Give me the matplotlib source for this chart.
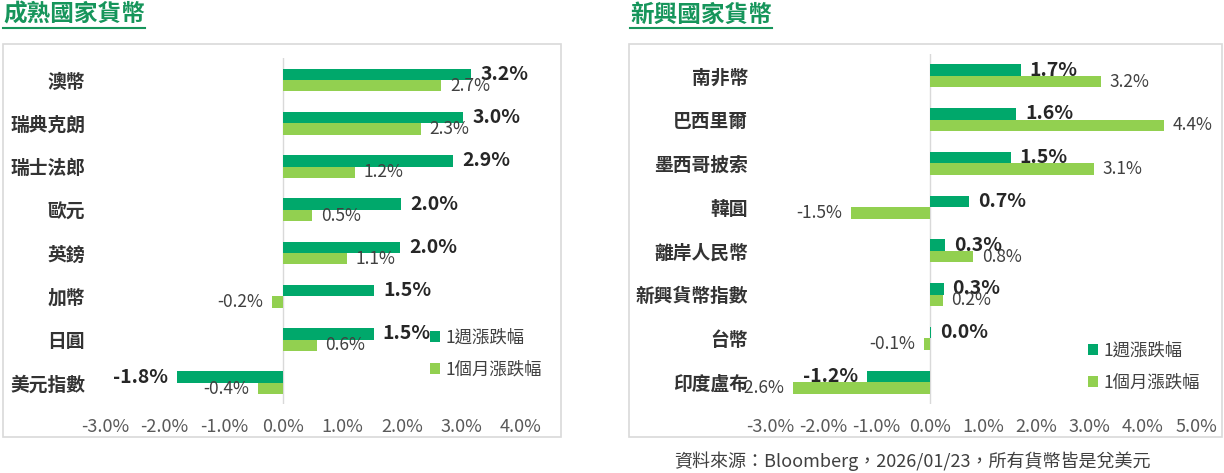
import matplotlib
matplotlib.use("Agg")
import matplotlib.pyplot as plt
from matplotlib.patches import Rectangle
from matplotlib.lines import Line2D

plt.rcParams['font.family'] = ['Noto Sans CJK TC', 'DejaVu Sans']

# 成熟國家貨幣
mature_names = ["澳幣", "瑞典克朗", "瑞士法郎", "歐元", "英鎊", "加幣", "日圓", "美元指數"]
mature_week = [3.16, 3.03, 2.86, 1.98, 1.97, 1.53, 1.52, -1.79]
mature_month = [2.66, 2.31, 1.2, 0.48, 1.07, -0.19, 0.56, -0.43]
mature_ticks = [-3, -2, -1, 0, 1, 2, 3, 4]

# 新興國家貨幣
emerging_names = ["南非幣", "巴西里爾", "墨西哥披索", "韓圓", "離岸人民幣", "新興貨幣指數", "台幣", "印度盧布"]
emerging_week = [1.71, 1.62, 1.52, 0.74, 0.28, 0.26, 0.03, -1.18]
emerging_month = [3.21, 4.39, 3.08, -1.48, 0.81, 0.24, -0.1, -2.56]
emerging_ticks = [-3, -2, -1, 0, 1, 2, 3, 4, 5]

series_names = ["1週漲跌幅", "1個月漲跌幅"]
titles = ["成熟國家貨幣", "新興國家貨幣"]
source_text = "資料來源：Bloomberg，2026/01/23，所有貨幣皆是兌美元"

DARK = "#00A86B"
LIGHT = "#92D050"
TITLE_GREEN = "#16955B"
W, H = 1224, 473


def px(x, y):
    # pixel coords (from top-left) to figure fraction
    return x / W, 1 - y / H


def draw_panel(ax, names, week, month, ticks, label_pad, legend_xy):
    pos = list(range(len(names)))
    bh = 0.265
    b1 = ax.barh([p - bh / 2 for p in pos], week, height=bh, color=DARK, label=series_names[0])
    b2 = ax.barh([p + bh / 2 for p in pos], month, height=bh, color=LIGHT, label=series_names[1])
    ax.set_xlim(ticks[0], ticks[-1])
    ax.set_ylim(len(names) - 0.5, -0.5)
    ax.axvline(0, color="#d9d9d9", lw=1, zorder=0)
    for s in ax.spines.values():
        s.set_visible(False)
    ax.set_xticks(ticks)
    ax.set_xticklabels([f"{t:.1f}%" for t in ticks], fontsize=13, color="#595959")
    ax.set_yticks(pos)
    ax.set_yticklabels(names, fontsize=13.5, color="#333333", fontweight="bold")
    ax.tick_params(axis="both", length=0)
    ax.tick_params(axis="x", pad=10)
    ax.tick_params(axis="y", pad=label_pad)

    for bars, vals, fs, fw, col in [(b1, week, 14, "bold", "#262626"),
                                    (b2, month, 12.5, "normal", "#404040")]:
        for rect, v in zip(bars, vals):
            yc = rect.get_y() + rect.get_height() / 2
            off = 6.5 if v >= 0 else -6.5
            ax.annotate(f"{v:.1f}%", (v, yc), xytext=(off, 0), textcoords="offset points",
                        ha="left" if v >= 0 else "right", va="center",
                        fontsize=fs, fontweight=fw, color=col)

    ax.legend(loc="center left", bbox_to_anchor=px(*legend_xy), bbox_transform=ax.figure.transFigure,
              frameon=False, fontsize=12.5, handlelength=0.6, handleheight=0.6,
              handletextpad=0.3, labelspacing=0.8, borderpad=0, borderaxespad=0,
              labelcolor="#404040")


fig = plt.figure(figsize=(W / 100, H / 100), dpi=100)

ax1 = fig.add_axes([105 / W, 1 - 404.4 / H, 416 / W, 346 / H])
draw_panel(ax1, mature_names, mature_week, mature_month, mature_ticks, 14.4, (430, 354))

ax2 = fig.add_axes([770 / W, 1 - 404 / H, 426 / W, 350 / H])
draw_panel(ax2, emerging_names, emerging_week, emerging_month, emerging_ticks, 15.8, (1088, 367))

# panel boxes
for x0, x1 in [(3, 561), (629, 1222)]:
    fx0, fy1 = px(x0, 44)
    fx1, fy0 = px(x1, 437)
    fig.add_artist(Rectangle((fx0, fy0), fx1 - fx0, fy1 - fy0, transform=fig.transFigure,
                             fill=False, edgecolor="#d9d9d9", lw=1.2))

# titles with underline
title_objs = []
for tx, t in zip([3, 630], titles):
    title_objs.append(fig.text(*px(tx, 15), t, fontsize=17, fontweight="bold",
                               color=TITLE_GREEN, ha="left", va="center"))

fig.text(*px(912, 461), source_text, fontsize=13, color="#404040", ha="center", va="center")

fig.canvas.draw()
for t in title_objs:
    bb = t.get_window_extent()
    yl = 1 - 28 / H
    fig.add_artist(Line2D([bb.x0 / W, bb.x1 / W], [yl, yl], transform=fig.transFigure,
                          color=TITLE_GREEN, lw=1.5))

fig.savefig("out.png", dpi=100)
